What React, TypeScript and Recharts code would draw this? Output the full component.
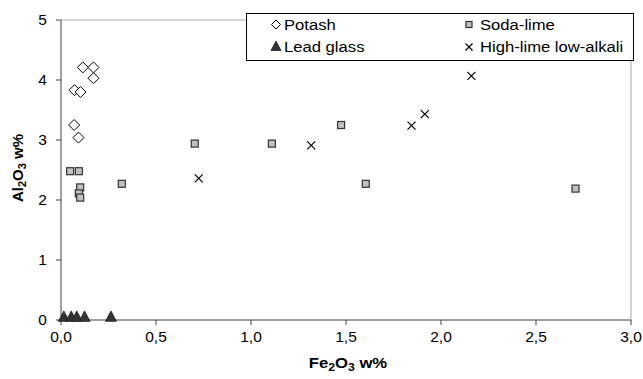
import { ScatterChart, Scatter, XAxis, YAxis, ReferenceLine, Label } from 'recharts';

// Fe2O3 (x) and Al2O3 (y) in w%
const potashFe = [0.115, 0.171, 0.171, 0.071, 0.103, 0.069, 0.092];
const potashAl = [4.21, 4.21, 4.03, 3.83, 3.8, 3.25, 3.04];
const sodaFe = [0.048, 0.094, 0.101, 0.094, 0.101, 0.32, 0.704, 1.11, 1.474, 1.604, 2.708];
const sodaAl = [2.48, 2.48, 2.21, 2.11, 2.04, 2.27, 2.94, 2.94, 3.25, 2.27, 2.19];
const leadFe = [0.015, 0.054, 0.083, 0.124, 0.263];
const leadAl = [0.06, 0.06, 0.06, 0.06, 0.06];
const limeFe = [0.725, 1.317, 1.845, 1.915, 2.16];
const limeAl = [2.36, 2.91, 3.24, 3.43, 4.07];

const xTicks = [0, 0.5, 1, 1.5, 2, 2.5, 3];
const yTicks = [0, 1, 2, 3, 4, 5];

const zip = (xs: number[], ys: number[]) => xs.map((x, i) => ({ x, y: ys[i] }));

const FONT = '"Liberation Sans", Arial, sans-serif';
const SX = 1.11; // the original text is a little stretched sideways

const Diamond = ({ cx, cy, r = 5.5 }: any) => (
  <path d={`M${cx},${cy - r}L${cx + r},${cy}L${cx},${cy + r}L${cx - r},${cy}Z`} fill="#fff" stroke="#000" strokeWidth={1} />
);
const Square = ({ cx, cy, s = 3.5 }: any) => (
  <rect x={cx - s} y={cy - s} width={s * 2} height={s * 2} fill="#c0c0c0" stroke="#333" strokeWidth={1.2} />
);
const Triangle = ({ cx, cy, r = 5.5 }: any) => (
  <path d={`M${cx},${cy - r}L${cx + r},${cy + r * 0.9}L${cx - r},${cy + r * 0.9}Z`} fill="#333" stroke="#222" strokeWidth={0.8} />
);
const Cross = ({ cx, cy, r = 4 }: any) => (
  <path d={`M${cx - r},${cy - r}L${cx + r},${cy + r}M${cx - r},${cy + r}L${cx + r},${cy - r}`} stroke="#000" strokeWidth={1.2} fill="none" />
);

const Txt = ({ x, y, anchor = 'start', size = 15, bold = false, children }: any) => (
  <text
    transform={`translate(${x},${y}) scale(${SX},1)`}
    textAnchor={anchor}
    fontFamily={FONT}
    fontSize={size}
    fontWeight={bold ? 'bold' : 'normal'}
    fill="#000"
  >
    {children}
  </text>
);

const XTick = ({ x, payload }: any) => (
  <Txt x={x} y={341.5} anchor="middle" size={14}>
    {Number(payload.value).toFixed(1).replace('.', ',')}
  </Txt>
);

const YTick = ({ y, payload }: any) => (
  <Txt x={47} y={y + 5} anchor="end" size={14}>
    {payload.value}
  </Txt>
);

const LegendBox = () => (
  <svg width={388} height={48} style={{ display: 'block' }}>
    <rect x={0.5} y={0.5} width={387} height={47} fill="#fff" stroke="#000" />
    <Diamond cx={30} cy={11.5} r={4.5} />
    <Txt x={38} y={17}>Potash</Txt>
    <Square cx={223} cy={11.5} s={3} />
    <Txt x={234} y={17}>Soda-lime</Txt>
    <Triangle cx={30} cy={33} r={5} />
    <Txt x={38} y={38.5}>Lead glass</Txt>
    <Cross cx={223} cy={34} r={3.5} />
    <Txt x={234} y={38.5}>High-lime low-alkali</Txt>
  </svg>
);

const YTitle = () => (
  <text transform="translate(23,168) rotate(-90)" textAnchor="middle" fontFamily={FONT} fontSize={15} fontWeight="bold" fill="#000">
    Al<tspan fontSize={11} dy={3}>2</tspan><tspan dy={-3}>O</tspan><tspan fontSize={11} dy={3}>3</tspan><tspan dy={-3}> w%</tspan>
  </text>
);

const XTitle = () => (
  <Txt x={348} y={368} anchor="middle" size={15} bold>
    Fe<tspan fontSize={11} dy={3}>2</tspan><tspan dy={-3}>O</tspan><tspan fontSize={11} dy={3}>3</tspan><tspan dy={-3}> w%</tspan>
  </Txt>
);

export default function App() {
  return (
    <div style={{ position: 'absolute', left: 0, top: 0, width: 643, height: 379, background: '#fff' }}>
      <ScatterChart width={643} height={379} margin={{ top: 20, right: 12, bottom: 0, left: 0 }}>
        <XAxis
          type="number"
          dataKey="x"
          domain={[0, 3]}
          ticks={xTicks}
          height={59}
          stroke="#444"
          tickSize={5}
          tick={<XTick />}
        >
          <Label content={<XTitle />} />
        </XAxis>
        <YAxis
          type="number"
          dataKey="y"
          domain={[0, 5]}
          ticks={yTicks}
          width={61}
          stroke="#444"
          tickSize={5}
          tick={<YTick />}
        >
          <Label content={<YTitle />} />
        </YAxis>
        <ReferenceLine y={5} stroke="#aaa" ifOverflow="extendDomain" />
        <ReferenceLine x={3} stroke="#aaa" ifOverflow="extendDomain" />
        <Scatter name="Potash" data={zip(potashFe, potashAl)} shape={(p: any) => <Diamond cx={p.cx} cy={p.cy} />} isAnimationActive={false} />
        <Scatter name="Soda-lime" data={zip(sodaFe, sodaAl)} shape={(p: any) => <Square cx={p.cx} cy={p.cy} />} isAnimationActive={false} />
        <Scatter name="Lead glass" data={zip(leadFe, leadAl)} shape={(p: any) => <Triangle cx={p.cx} cy={p.cy} />} isAnimationActive={false} />
        <Scatter name="High-lime low-alkali" data={zip(limeFe, limeAl)} shape={(p: any) => <Cross cx={p.cx} cy={p.cy} />} isAnimationActive={false} />
      </ScatterChart>
      <div style={{ position: 'absolute', left: 246, top: 13 }}>
        <LegendBox />
      </div>
    </div>
  );
}
